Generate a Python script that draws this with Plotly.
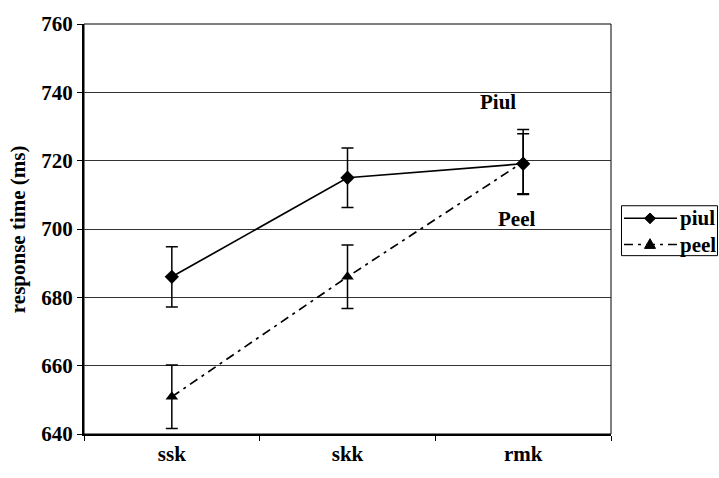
import plotly.graph_objects as go

categories = ["ssk", "skk", "rmk"]
piul_values = [686.0, 715.0, 719.1]
piul_errors = [8.8, 8.7, 8.8]
peel_values = [650.9, 686.0, 719.6]
peel_errors = [9.3, 9.3, 9.5]
y_ticks = [640, 660, 680, 700, 720, 740, 760]
series_names = ["piul", "peel"]

FONT = "Liberation Serif"
FS = 21
DASH = "9px,5px,3px,5px"
fig = go.Figure()

fig.add_trace(go.Scatter(
    x=categories, y=peel_values, name=series_names[1], mode="lines+markers",
    line=dict(color="black", width=1.7, dash=DASH),
    marker=dict(symbol="triangle-up", size=11, color="black"),
    error_y=dict(type="data", array=peel_errors, color="black", thickness=1.5, width=6),
    showlegend=False,
))
fig.add_trace(go.Scatter(
    x=categories, y=piul_values, name=series_names[0], mode="lines+markers",
    line=dict(color="black", width=1.7),
    marker=dict(symbol="diamond", size=11, color="black"),
    error_y=dict(type="data", array=piul_errors, color="black", thickness=1.5, width=6),
    showlegend=False,
))

fig.add_annotation(x=1.856, y=737.3, text="<b>Piul</b>", showarrow=False,
                   font=dict(family=FONT, size=FS, color="black"))
fig.add_annotation(x=1.964, y=702.8, text="<b>Peel</b>", showarrow=False,
                   font=dict(family=FONT, size=FS, color="black"))
fig.add_annotation(xref="paper", yref="paper", x=-0.125, y=0.5, textangle=-90,
                   xanchor="center", yanchor="middle",
                   text="<b>response time (ms)</b>", showarrow=False,
                   font=dict(family=FONT, size=FS, color="black"))

fig.add_shape(type="rect", xref="paper", yref="paper", x0=0, x1=1, y0=0, y1=1,
              line=dict(color="black", width=1), layer="below")

# manual legend (paper coordinates derived from plot-area pixels)
L, T, W, H = 84.0, 19.0, 527.0, 423.0
def px(xp):
    return (xp - L) / W
def py(yp):
    return (T + H - yp) / H

fig.add_shape(type="rect", xref="paper", yref="paper",
              x0=px(621.5), x1=px(717.5), y0=py(258), y1=py(206.5),
              line=dict(color="black", width=1), fillcolor="white")
rows = [219.5, 246.5]
for i, name in enumerate(series_names):
    yc = rows[i]
    fig.add_shape(type="line", xref="paper", yref="paper",
                  x0=px(624), x1=px(677), y0=py(yc), y1=py(yc),
                  line=dict(color="black", width=1.5, dash=None if i == 0 else DASH))
    if i == 0:
        path = (f"M {px(650)},{py(yc-5.5)} L {px(655.5)},{py(yc)} "
                f"L {px(650)},{py(yc+5.5)} L {px(644.5)},{py(yc)} Z")
    else:
        path = (f"M {px(650)},{py(yc-6)} L {px(655.5)},{py(yc+4)} "
                f"L {px(644.5)},{py(yc+4)} Z")
    fig.add_shape(type="path", xref="paper", yref="paper", path=path,
                  fillcolor="black", line=dict(color="black", width=1))
    fig.add_annotation(xref="paper", yref="paper", x=px(678), y=py(yc),
                       xanchor="left", yanchor="middle", text=f"<b>{name}</b>",
                       showarrow=False,
                       font=dict(family=FONT, size=FS, color="black"))

fig.update_layout(
    width=719, height=478,
    margin=dict(l=84, r=108, t=19, b=36),
    paper_bgcolor="white", plot_bgcolor="white",
    font=dict(family=FONT, size=FS, color="black"),
    showlegend=False,
    xaxis=dict(type="category", range=[-0.5, 2.5], showline=True, linecolor="black",
               linewidth=2, ticks="outside", ticklen=5, tickcolor="black",
               tickson="boundaries", showgrid=False,
               tickfont=dict(family=FONT, size=FS, color="black", weight="bold")),
    yaxis=dict(range=[640, 760], tickvals=y_ticks, showline=True, linecolor="black",
               linewidth=2, ticks="outside", ticklen=5, tickcolor="black",
               showgrid=True, gridcolor="#333333", gridwidth=1, zeroline=False,
               tickfont=dict(family=FONT, size=FS, color="black", weight="bold")),
)

fig.write_html("out.html")
